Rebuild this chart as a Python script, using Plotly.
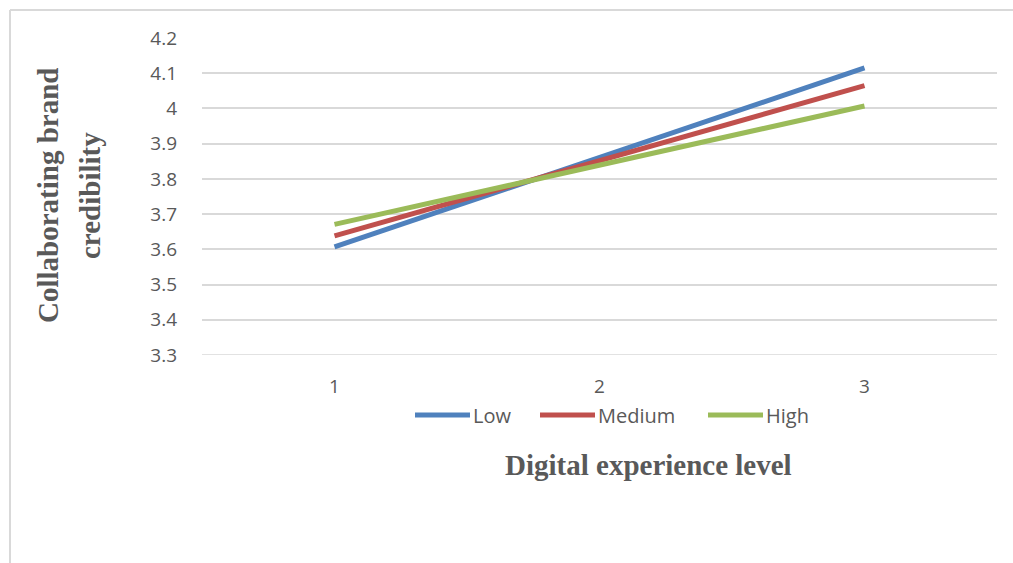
import plotly.graph_objects as go

# Digital experience level categories and group means
levels = ["1", "2", "3"]
low = [3.607, 3.861, 4.115]
medium = [3.638, 3.851, 4.065]
high = [3.671, 3.839, 4.007]

series_names = ["Low", "Medium", "High"]
series_colors = ["#4F81BD", "#C0504D", "#9BBB59"]
y_ticks = [3.3, 3.4, 3.5, 3.6, 3.7, 3.8, 3.9, 4.0, 4.1, 4.2]
y_tick_text = ["3.3", "3.4", "3.5", "3.6", "3.7", "3.8", "3.9", "4", "4.1", "4.2"]

W, H = 1013, 563
L, R, T, B = 202, 16, 38, 208

grey = "#595959"
grid = "#D9D9D9"
tick_font = dict(family="Open Sans", size=19, color=grey)
title_font = dict(family="Liberation Serif", size=29, color=grey)
legend_font = dict(family="Open Sans", size=20, color=grey)

pw = W - L - R
ph = H - T - B
def px_x(x):
    return (x - L) / pw
def px_y(y):
    return (H - B - y) / ph

fig = go.Figure()
for name, vals, col in zip(series_names, [low, medium, high], series_colors):
    fig.add_trace(go.Scatter(
        x=levels, y=vals, name=name, mode="lines",
        line=dict(color=col, width=5),
        hoverinfo="x+y+name", showlegend=False,
    ))

fig.update_layout(
    width=W, height=H,
    margin=dict(l=L, r=R, t=T, b=B, pad=0),
    paper_bgcolor="white", plot_bgcolor="white",
    xaxis=dict(
        type="category", range=[-0.5, 2.5],
        showgrid=False, showline=False, zeroline=False,
        ticks="", tickfont=tick_font, ticklabelstandoff=18,
        fixedrange=True,
    ),
    yaxis=dict(
        range=[3.3, 4.2], tickvals=y_ticks, ticktext=y_tick_text,
        showgrid=True, gridcolor=grid, gridwidth=1.5,
        showline=False, zeroline=False, ticks="",
        tickfont=tick_font, ticklabelstandoff=24,
        fixedrange=True,
    ),
)

# bottom gridline / category axis line
fig.add_shape(type="line", xref="paper", yref="y", x0=0, x1=1,
              y0=y_ticks[0], y1=y_ticks[0], line=dict(color=grid, width=1.5),
              layer="below")

# legend: line swatch followed by series name
legend_starts = [415, 540, 708]
swatch_len = 55
legend_y = 415
for name, col, x0 in zip(series_names, series_colors, legend_starts):
    fig.add_shape(type="line", xref="paper", yref="paper",
                  x0=px_x(x0), x1=px_x(x0 + swatch_len),
                  y0=px_y(legend_y), y1=px_y(legend_y),
                  line=dict(color=col, width=5))
    fig.add_annotation(text=name, xref="paper", yref="paper",
                       x=px_x(x0 + swatch_len + 1), y=px_y(legend_y),
                       xanchor="left", yanchor="middle", showarrow=False,
                       font=legend_font)

# axis titles
fig.add_annotation(
    text="<b>Collaborating brand</b>",
    xref="paper", yref="paper", x=px_x(48), y=px_y(196),
    xanchor="center", yanchor="middle", textangle=-90,
    showarrow=False, font=title_font,
)
fig.add_annotation(
    text="<b>credibility</b>",
    xref="paper", yref="paper", x=px_x(90), y=px_y(196),
    xanchor="center", yanchor="middle", textangle=-90,
    showarrow=False, font=title_font,
)
fig.add_annotation(
    text="<b>Digital experience level</b>",
    xref="paper", yref="paper", x=px_x(648), y=px_y(465),
    xanchor="center", yanchor="middle",
    showarrow=False, font=title_font,
)

# chart frame (top and left edges)
frame = dict(color=grid, width=2)
fig.add_shape(type="line", xref="paper", yref="paper",
              x0=px_x(10), x1=px_x(W + 5), y0=px_y(10), y1=px_y(10), line=frame)
fig.add_shape(type="line", xref="paper", yref="paper",
              x0=px_x(10), x1=px_x(10), y0=px_y(10), y1=px_y(H + 5), line=frame)

fig.write_html("out.html")
